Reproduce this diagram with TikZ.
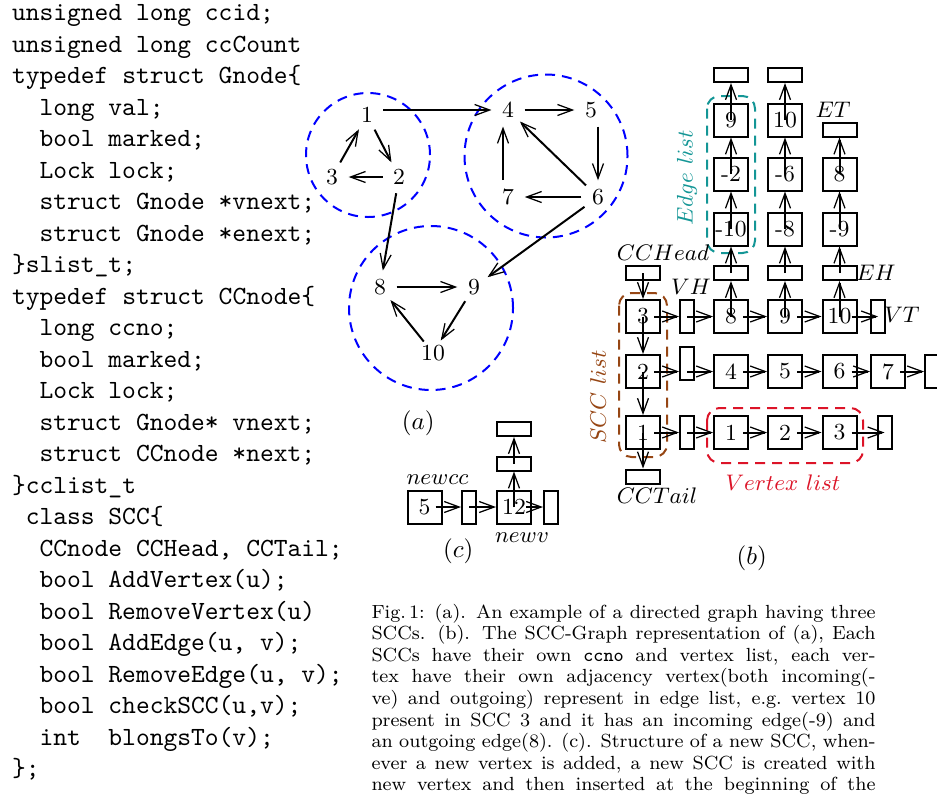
\documentclass[tikz,border=0pt]{standalone}
\usetikzlibrary{arrows.meta}
\definecolor{sccbrown}{RGB}{150,70,20}
\definecolor{edgeteal}{RGB}{20,150,150}
\definecolor{vxred}{RGB}{220,20,40}
\newcommand\myfig{\fontsize{9.2}{11}\selectfont}
\newcommand\mycode{\fontsize{10.5}{12.6}\selectfont\ttfamily}
\newcommand\mycap{\fontsize{7.6}{8.7}\selectfont}
\begin{document}
\begin{tikzpicture}[x=0.4pt,y=-0.4pt,
  codeln/.style={anchor=base west, inner sep=0pt, font=\mycode},
  capln/.style={anchor=base west, inner sep=0pt, font=\mycap},
  box/.style={draw, line width=0.8pt, minimum width=13.6pt, minimum height=13.2pt, inner sep=0pt, font=\myfig},
  flat/.style={draw, line width=0.8pt, minimum width=13.6pt, minimum height=5.6pt, inner sep=0pt},
  tall/.style={draw, line width=0.8pt, minimum width=5.6pt, minimum height=13.2pt, inner sep=0pt},
  arr/.style={line width=0.8pt, -{Straight Barb[length=6pt,width=4.4pt,line width=0.5pt]}},
  vtx/.style={circle, inner sep=1.8pt, font=\myfig},
  lbl/.style={inner sep=0pt, font=\myfig},
  sublbl/.style={inner sep=0pt, font=\fontsize{10}{12}\selectfont},
  grp/.style={line width=0.8pt, dash pattern=on 4pt off 2.8pt},
]
\useasboundingbox (0,0) rectangle (937,794);

% ---------------- code ----------------
\node[codeln] (c1)  at (11.5,20.7)  {unsigned long ccid;};
\node[codeln] (c2)  at (11.5,52.2)  {unsigned long ccCount};
\node[codeln] (c3)  at (11.5,83.7)  {typedef struct Gnode\{};
\node[codeln] (c4)  at (11.5,115.2) {\ \ long val;};
\node[codeln] (c5)  at (11.5,146.7) {\ \ bool marked;};
\node[codeln] (c6)  at (11.5,178.2) {\ \ Lock lock;};
\node[codeln] (c7)  at (11.5,209.7) {\ \ struct Gnode *vnext;};
\node[codeln] (c8)  at (11.5,241.2) {\ \ struct Gnode *enext;};
\node[codeln] (c9)  at (11.5,272.7) {\}slist\_t;};
\node[codeln] (c10) at (11.5,304.2) {typedef struct CCnode\{};
\node[codeln] (c11) at (11.5,335.7) {\ \ long ccno;};
\node[codeln] (c12) at (11.5,367.2) {\ \ bool marked;};
\node[codeln] (c13) at (11.5,398.7) {\ \ Lock lock;};
\node[codeln] (c14) at (11.5,430.2) {\ \ struct Gnode* vnext;};
\node[codeln] (c15) at (11.5,461.7) {\ \ struct CCnode *next;};
\node[codeln] (c16) at (11.5,493.2) {\}cclist\_t};
\node[codeln] (c17) at (11.5,524.7) {\ class SCC\{};
\node[codeln] (c18) at (11.5,556.2) {\ \ CCnode CCHead, CCTail;};
\node[codeln] (c19) at (11.5,587.7) {\ \ bool AddVertex(u);};
\node[codeln] (c20) at (11.5,619.2) {\ \ bool RemoveVertex(u)};
\node[codeln] (c21) at (11.5,650.7) {\ \ bool AddEdge(u, v);};
\node[codeln] (c22) at (11.5,682.2) {\ \ bool RemoveEdge(u, v);};
\node[codeln] (c23) at (11.5,713.7) {\ \ bool checkSCC(u,v);};
\node[codeln] (c24) at (11.5,745.2) {\ \ int\ \ blongsTo(v);};
\node[codeln] (c25) at (11.5,776.7) {\};};

% ---------------- caption ----------------
\node[capln] (k1l) at (371,618.0) {\makebox[201.6pt][s]{Fig.\,1: (a). An example of a directed graph having three}};
\node[capln] (k2l) at (371,639.6) {\makebox[201.6pt][s]{SCCs. (b). The SCC-Graph representation of (a), Each}};
\node[capln] (k3l) at (371,661.2) {\makebox[201.6pt][s]{SCCs have their own \texttt{ccno} and vertex list, each ver-}};
\node[capln] (k4l) at (371,682.8) {\makebox[201.6pt][s]{tex have their own adjacency vertex(both incoming(-}};
\node[capln] (k5l) at (371,704.4) {\makebox[201.6pt][s]{ve) and outgoing) represent in edge list, e.g.\ vertex 10}};
\node[capln] (k6l) at (371,726.0) {\makebox[201.6pt][s]{present in SCC 3 and it has an incoming edge(-9) and}};
\node[capln] (k7l) at (371,747.6) {\makebox[201.6pt][s]{an outgoing edge(8). (c). Structure of a new SCC, when-}};
\node[capln] (k8l) at (371,769.2) {\makebox[201.6pt][s]{ever a new vertex is added, a new SCC is created with}};
\node[capln] (k9l) at (371,790.8) {\makebox[201.6pt][s]{new vertex and then inserted at the beginning of the}};

% ---------------- (a) graph ----------------
\draw[blue, grp] (368,155) circle[radius=24.8pt];
\draw[blue, grp] (546,156) circle[radius=32.6pt];
\draw[blue, grp] (431,308) circle[radius=32.8pt];

\node[vtx] (g1) at (367,115) {1};
\node[vtx] (g2) at (399,177) {2};
\node[vtx] (g3) at (332,177) {3};
\node[vtx] (g4) at (508,110) {4};
\node[vtx] (g5) at (591,110) {5};
\node[vtx] (g6) at (598,197) {6};
\node[vtx] (g7) at (508,197) {7};
\node[vtx] (g8) at (380,287) {8};
\node[vtx] (g9) at (474,287) {9};
\node[vtx, inner sep=0pt] (g10) at (433,353) {10};

\draw[arr] (g1.east |- g4.west) -- (g4.west);
\draw[arr] (g4) -- (g5);
\draw[arr] (g5.south -| g6.north) -- (g6.north);
\draw[arr] (g6) -- (g7);
\draw[arr] ([xshift=-2pt]g7.north) -- ([xshift=-2pt]g4.south);
\draw[arr] (g6) -- (g4);
\draw[arr] (g1) -- (g2);
\draw[arr] (g2) -- (g3);
\draw[arr] (g3) -- (g1);
\draw[arr] (g2) -- (g8);
\draw[arr] (g8) -- (g9);
\draw[arr] (g9) -- (g10);
\draw[arr] (g10) -- (g8);
\draw[arr] (g6) -- (g9);
\node[sublbl] (la) at (418.3,423.3) {$(a)$};

% ---------------- (b) lists ----------------
\draw[edgeteal, grp, rounded corners=5pt] (707,96) rectangle (755,253);
\draw[sccbrown, grp, rounded corners=5pt] (619,293) rectangle (667,457);
\draw[vxred, grp, rounded corners=5pt] (707,408) rectangle (863,463);

\node[flat] (ch) at (643,273) {};
\node[box] (S3) at (643,316.5) {3};
\node[box] (S2) at (643,371.5) {2};
\node[box] (S1) at (643,432.5) {1};
\node[flat] (ct) at (643,476.5) {};

\node[tall] (h1) at (687,316.5) {};
\node[tall] (h2) at (687,363.5) {};
\node[tall] (h3) at (687,432.5) {};

\node[box] (V8) at (731,316.5) {8};
\node[box] (V9) at (785,316.5) {9};
\node[box] (V10) at (839.5,316.5) {10};
\node[tall] (vt) at (878,316.5) {};

\node[box] (V4) at (731,371.5) {4};
\node[box] (V5) at (785,371.5) {5};
\node[box] (V6) at (839.5,371.5) {6};
\node[box] (V7) at (888,371.5) {7};
\node[box] (Vx) at (942,371.5) {};

\node[box] (W1) at (731,432.5) {1};
\node[box] (W2) at (785,432.5) {2};
\node[box] (W3) at (839.5,432.5) {3};
\node[tall] (wt) at (884.5,432.5) {};

\node[flat] (ea0) at (731,273) {};
\node[box] (ea1) at (731,229) {-10};
\node[box] (ea2) at (731,174) {-2};
\node[box] (ea3) at (731,120) {9};
\node[flat] (ea4) at (731,75) {};

\node[flat] (eb0) at (785,273) {};
\node[box] (eb1) at (785,229) {-8};
\node[box] (eb2) at (785,174) {-6};
\node[box] (eb3) at (785,120) {10};
\node[flat] (eb4) at (785,75) {};

\node[flat] (ec0) at (839.5,273) {};
\node[box] (ec1) at (839.5,229) {-9};
\node[box] (ec2) at (839.5,174) {8};
\node[flat] (ec3) at (839.5,129.5) {};

\draw[arr] (ch.center) -- (S3);
\draw[arr] (S3.center) -- (S2);
\draw[arr] (S2.center) -- (S1);
\draw[arr] (S1.center) -- (ct);

\draw[arr] ([xshift=-2.8pt]S3.east) -- (h1.west);
\draw[arr] (h1.center) -- (V8.west);
\draw[arr] ([xshift=-2.4pt]V8.east) -- (V9.west);
\draw[arr] ([xshift=-2.4pt]V9.east) -- (V10.west);
\draw[arr] ([xshift=-2.4pt]V10.east) -- (vt.center);

\draw[arr] ([xshift=-2.8pt]S2.east) -- (S2 -| h2.west);
\draw[arr] (S2 -| h2) -- (V4.west);
\draw[arr] ([xshift=-2.4pt]V4.east) -- (V5.west);
\draw[arr] ([xshift=-2.4pt]V5.east) -- (V6.west);
\draw[arr] ([xshift=-2.4pt]V6.east) -- (V7.west);
\draw[arr] ([xshift=-2.4pt]V7.east) -- (Vx.west);

\draw[arr] ([xshift=-2.8pt]S1.east) -- (h3.west);
\draw[arr] (h3.center) -- (W1.west);
\draw[arr] ([xshift=-2.4pt]W1.east) -- (W2.west);
\draw[arr] ([xshift=-2.4pt]W2.east) -- (W3.west);
\draw[arr] ([xshift=-2.4pt]W3.east) -- (wt.center);

\draw[arr] (V8.center) -- (ea0);
\draw[arr] (ea0.center) -- (ea1);
\draw[arr] (ea1.center) -- (ea2);
\draw[arr] (ea2.center) -- (ea3);
\draw[arr] (ea3.center) -- (ea4);

\draw[arr] (V9.center) -- (eb0);
\draw[arr] (eb0.center) -- (eb1);
\draw[arr] (eb1.center) -- (eb2);
\draw[arr] (eb2.center) -- (eb3);
\draw[arr] (eb3.center) -- (eb4);

\draw[arr] (V10.center) -- (ec0);
\draw[arr] (ec0.center) -- (ec1);
\draw[arr] (ec1.center) -- (ec2);
\draw[arr] (ec2.center) -- (ec3);

\node[lbl] (lch) at (663,252.7) {$CCHead$};
\node[lbl] (lvh) at (691,287) {$VH$};
\node[lbl] (leh) at (876,273) {$EH$};
\node[lbl] (let) at (833,110) {$ET$};
\node[lbl] (lvt) at (902,315) {$VT$};
\node[lbl] (lct) at (657,496) {$CCTail$};
\node[lbl, text=vxred] (lvx) at (783,483) {$Vertex\ list$};
\node[lbl, text=sccbrown, rotate=90] (lscc) at (598,397) {$SCC\ list$};
\node[lbl, text=edgeteal, rotate=90] (led) at (687,178) {$Edge\ list$};
\node[sublbl] (lb) at (751.7,558) {$(b)$};

% ---------------- (c) ----------------
\node[box] (k5) at (424.5,507) {5};
\node[tall] (kt1) at (469,507) {};
\node[box] (k12) at (514,507) {12};
\node[tall] (kt2) at (551,507) {};
\node[flat] (ku1) at (514,463.5) {};
\node[flat] (ku2) at (514,429) {};

\draw[arr] ([xshift=-2.8pt]k5.east) -- (kt1.west);
\draw[arr] (kt1.center) -- (k12.west);
\draw[arr] ([xshift=-2.4pt]k12.east) -- (kt2.west);
\draw[arr] (k12.center) -- (ku1);
\draw[arr] (ku1.center) -- (ku2);

\node[lbl] (lnc) at (437.5,480) {$newcc$};
\node[lbl] (lnv) at (522,538) {$newv$};
\node[sublbl] (lc) at (458.3,551.7) {$(c)$};
\end{tikzpicture}
\end{document}
